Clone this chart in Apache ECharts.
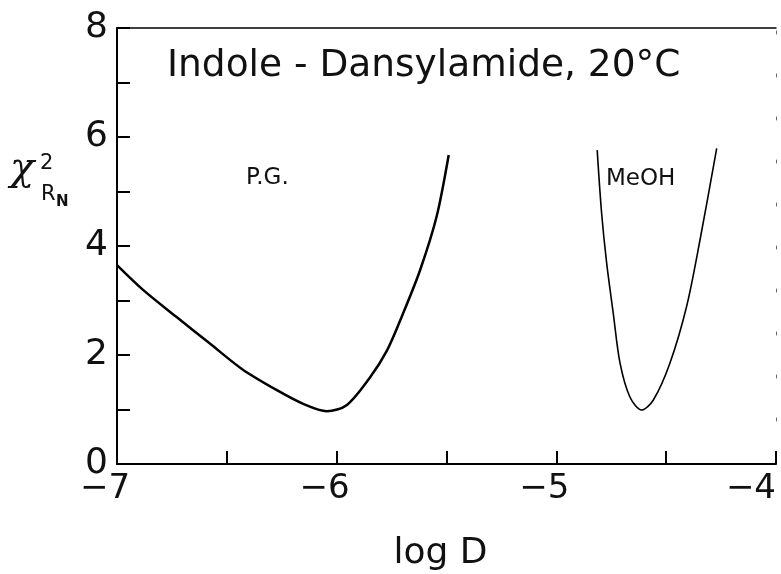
<!DOCTYPE html>
<html>
<head>
<meta charset="utf-8">
<script src="https://cdn.jsdelivr.net/npm/echarts@6/dist/echarts.min.js"></script>
<style>
	html, body { margin: 0; padding: 0; background: #fff; }
	#chart { width: 781px; height: 574px; }
</style>
</head>
<body>
<div id="chart"></div>
<script>
	'use strict'
	/*-----data-----*/
	var pgLogD = [-7.00, -6.88, -6.73, -6.58, -6.43, -6.27, -6.15, -6.045, -5.955, -5.85, -5.77, -5.70, -5.62, -5.545, -5.49];
	var pgChi = [3.65, 3.19, 2.70, 2.22, 1.74, 1.35, 1.10, 0.97, 1.08, 1.58, 2.09, 2.74, 3.56, 4.54, 5.67];
	var meohLogD = [-4.814, -4.794, -4.771, -4.741, -4.71, -4.665, -4.612, -4.559, -4.483, -4.407, -4.346, -4.27];
	var meohChi = [5.76, 4.61, 3.69, 2.77, 1.85, 1.23, 0.99, 1.17, 1.85, 2.89, 4.11, 5.79];
	var xTicks = [-7, -6, -5, -4];
	var yTicks = [0, 2, 4, 6, 8];

	function pairs(xs, ys) {
		var out = [];
		for (var i = 0; i < xs.length; i++) {
			out.push([xs[i], ys[i]]);
		}
		return out;
	}

	var font = 'DejaVu Sans';
	var chart = echarts.init(document.getElementById('chart'));
	var option = {
		backgroundColor: '#fff',
		animation: false,
		grid: {
			left: 117,
			right: 5,
			top: 28,
			bottom: 110,
			containLabel: false,
			outerBoundsMode: 'none'
		},
		xAxis: [{
			type: 'value',
			min: -7,
			max: -4,
			interval: 0.5,
			name: 'log D',
			nameLocation: 'middle',
			nameGap: 72,
			nameTextStyle: {
				fontFamily: font,
				fontSize: 36,
				color: '#111',
				padding: [0, 12, 0, 0]
			},
			axisLine: {
				lineStyle: { color: '#000', width: 2 }
			},
			axisTick: {
				inside: true,
				length: 13,
				lineStyle: { color: '#000', width: 2 }
			},
			axisLabel: {
				margin: 8,
				color: '#111',
				alignMaxLabel: 'right',
				formatter: function(v) {
					if (xTicks.indexOf(v) < 0) return '';
					var s = '\u2212' + Math.abs(v);
					return v === -4 ? '{e|' + s + '}' : '{n|' + s + '}';
				},
				rich: {
					n: { fontFamily: font, fontSize: 34, color: '#111', padding: [0, 24, 0, 0] },
					e: { fontFamily: font, fontSize: 34, color: '#111', padding: [0, 0, 0, 0] }
				}
			},
			splitLine: { show: false }
		}, {
			type: 'value',
			position: 'top',
			min: -7,
			max: -4,
			axisLine: {
				onZero: false,
				lineStyle: { color: '#000', width: 1.5 }
			},
			axisTick: { show: false },
			axisLabel: { show: false },
			splitLine: { show: false }
		}],
		yAxis: [{
			type: 'value',
			min: 0,
			max: 8,
			interval: 1,
			axisLine: {
				show: true,
				lineStyle: { color: '#000', width: 2 }
			},
			axisTick: {
				show: true,
				inside: true,
				length: 13,
				lineStyle: { color: '#000', width: 2 }
			},
			axisLabel: {
				margin: 9,
				fontFamily: font,
				fontSize: 36,
				color: '#111',
				formatter: function(v) {
					return yTicks.indexOf(v) >= 0 ? String(v) : '';
				}
			},
			splitLine: { show: false }
		}, {
			type: 'value',
			position: 'right',
			min: 0,
			max: 8,
			axisLine: {
				show: true,
				onZero: false,
				lineStyle: { color: '#666', width: 1, type: [3, 40] }
			},
			axisTick: { show: false },
			axisLabel: { show: false },
			splitLine: { show: false }
		}],
		graphic: [{
			type: 'text',
			left: 167,
			top: 47,
			style: {
				text: 'Indole - Dansylamide, 20°C',
				fontFamily: font,
				fontSize: 37.5,
				fill: '#111'
			}
		}, {
			type: 'text',
			left: 246,
			top: 167,
			style: {
				text: 'P.G.',
				fontFamily: font,
				fontSize: 23,
				fill: '#111'
			}
		}, {
			type: 'text',
			left: 606,
			top: 168,
			style: {
				text: 'MeOH',
				fontFamily: font,
				fontSize: 23,
				fill: '#111'
			}
		}, {
			type: 'text',
			left: 10,
			top: 150,
			style: {
				text: 'χ',
				fontFamily: 'DejaVu Serif',
				fontStyle: 'italic',
				fontSize: 40,
				fill: '#111'
			}
		}, {
			type: 'text',
			left: 40,
			top: 153,
			style: {
				text: '2',
				fontFamily: font,
				fontSize: 21,
				fill: '#111'
			}
		}, {
			type: 'text',
			left: 41,
			top: 184,
			style: {
				text: 'R',
				fontFamily: font,
				fontSize: 21,
				fill: '#111'
			}
		}, {
			type: 'text',
			left: 56,
			top: 195,
			style: {
				text: 'N',
				fontFamily: font,
				fontSize: 15,
				fontWeight: 'bold',
				fill: '#111'
			}
		}],
		series: [{
			name: 'P.G.',
			type: 'line',
			smooth: 0.3,
			showSymbol: false,
			data: pairs(pgLogD, pgChi),
			lineStyle: { color: '#000', width: 2.5 }
		}, {
			name: 'MeOH',
			type: 'line',
			smooth: 0.3,
			showSymbol: false,
			data: pairs(meohLogD, meohChi),
			lineStyle: { color: '#000', width: 1.6 }
		}]
	};
	chart.setOption(option);
</script>
</body>
</html>
